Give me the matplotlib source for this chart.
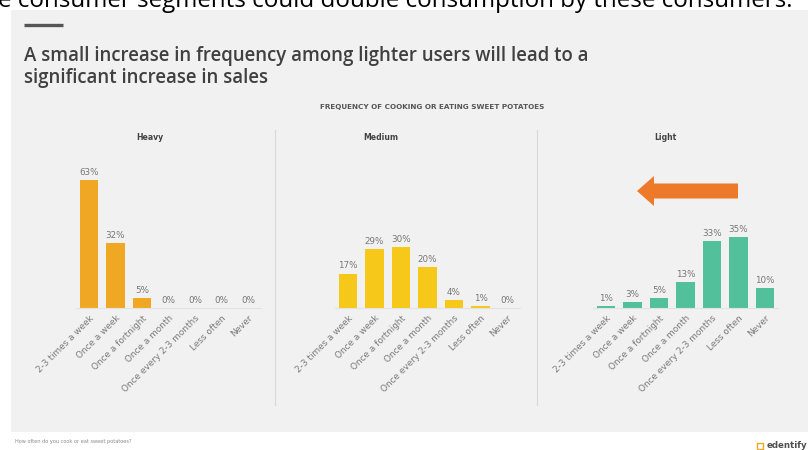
import matplotlib.pyplot as plt
from matplotlib.patches import Rectangle, FancyArrow

# survey answers, same order for all three user groups
freq_labels = ['2-3 times a week', 'Once a week', 'Once a fortnight', 'Once a month',
               'Once every 2-3 months', 'Less often', 'Never']
segments = ['Heavy', 'Medium', 'Light']
heavy = [63, 32, 5, 0, 0, 0, 0]
medium = [17, 29, 30, 20, 4, 1, 0]
light = [1, 3, 5, 13, 33, 35, 10]

W, H = 808, 450
fig = plt.figure(figsize=(W / 100, H / 100), dpi=100)
fig.patch.set_facecolor('white')


def px(x, y):
    # pixel position (from top-left) -> figure fraction
    return x / W, 1 - y / H


# slide background
fig.patches.append(Rectangle((11 / W, 1 - 432 / H), (W - 11) / W, (432 - 10) / H,
                             transform=fig.transFigure, facecolor='#f1f1f1',
                             edgecolor='none', zorder=-5))

# headline from the previous slide, cut at the top edge
fig.text(*px(-2, 7), 'e consumer segments could double consumption by these consumers.',
         fontsize=17.4, family='Open Sans', color='black', va='baseline', ha='left')

# small dash above the title
fig.lines.append(plt.Line2D([24 / W, 63 / W], [1 - 25 / H] * 2, transform=fig.transFigure,
                            color='#555555', lw=2.4, solid_capstyle='butt'))

title_kw = dict(fontsize=13.4, family='Open Sans', weight='semibold', color='#404040',
                va='center', ha='left')
fig.text(*px(24, 56), 'A small increase in frequency among lighter users will lead to a', **title_kw)
fig.text(*px(24, 78), 'significant increase in sales', **title_kw)
fig.text(*px(432, 107), 'FREQUENCY OF COOKING OR EATING SWEET POTATOES', fontsize=5.2,
         weight='bold', color='#555555', ha='center', va='center')

colors = ['#f0a824', '#f6c819', '#52c09a']
values = [heavy, medium, light]
lefts = [75.75, 334.75, 592.75]
title_x = [150, 381, 665]

for seg, vals, col, left, tx in zip(segments, values, colors, lefts, title_x):
    ax = fig.add_axes([left / W, 1 - 308 / H, 185.5 / W, 142 / H])
    ax.set_facecolor('none')
    x = range(len(vals))
    ax.bar(x, vals, width=0.68, color=col)
    for i, v in zip(x, vals):
        ax.text(i, v + 1.5, f'{v}%', ha='center', va='bottom', fontsize=6.3, color='#767676')
    ax.set_xlim(-0.5, 6.5)
    ax.set_ylim(0, 70)
    ax.set_yticks([])
    ax.set_xticks(list(x))
    ax.set_xticklabels(freq_labels, rotation=45, ha='right', rotation_mode='anchor',
                       fontsize=6.4, color='#7a7a7a')
    ax.tick_params(axis='x', length=0, pad=4)
    for s in ['top', 'right', 'left']:
        ax.spines[s].set_visible(False)
    ax.spines['bottom'].set_color('#e2e2e2')
    ax.spines['bottom'].set_linewidth(0.8)
    fig.text(*px(tx, 137), seg, fontsize=5.6, weight='bold', color='#444444',
             ha='center', va='center')

# separators between the panels
for sx in [275, 537]:
    fig.lines.append(plt.Line2D([sx / W] * 2, [1 - 130 / H, 1 - 405 / H],
                                transform=fig.transFigure, color='#d8d8d8', lw=0.8))

# orange arrow pointing towards higher frequency
fig.patches.append(FancyArrow(738 / W, 1 - 191 / H, -101 / W, 0, width=15 / H,
                              head_width=30 / H, head_length=17 / W,
                              length_includes_head=True, transform=fig.transFigure,
                              color='#ec7a2a', lw=0))

fig.text(*px(15, 442), 'How often do you cook or eat sweet potatoes?', fontsize=3.6,
         color='#8a8a8a', ha='left', va='center')
fig.patches.append(Rectangle((757 / W, 1 - 449 / H), 6 / W, 6 / H, transform=fig.transFigure,
                             facecolor='none', edgecolor='#f0a824', lw=1))
fig.text(*px(767, 445), 'edentify', fontsize=6.2, weight='bold', color='#505050',
         ha='left', va='center')

fig.savefig('out.png', dpi=100)
